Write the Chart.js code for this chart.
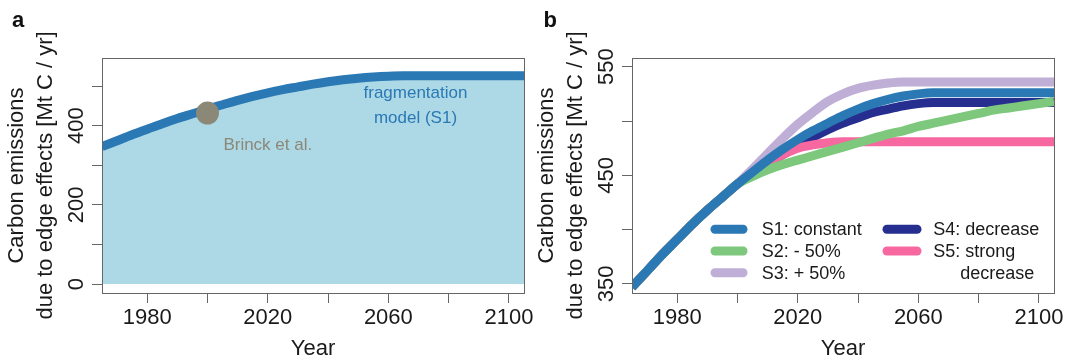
<!DOCTYPE html>
<html>
<head>
<meta charset="utf-8">
<script src="https://cdn.jsdelivr.net/npm/chart.js@4.4.1/dist/chart.umd.min.js"></script>
<style>
  html, body { margin: 0; padding: 0; background: #fff; }
  body { width: 1070px; height: 360px; position: relative; overflow: hidden; }
  canvas { position: absolute; top: 0; }
  #chartA { left: 0; }
  #chartB { left: 530px; }
</style>
</head>
<body>
<canvas id="chartA" width="545" height="360"></canvas>
<canvas id="chartB" width="540" height="360"></canvas>
<script>
// data (5-year steps)
const years = [1965, 1970, 1975, 1980, 1985, 1990, 1995, 2000, 2005, 2010, 2015, 2020, 2025, 2030, 2035,
  2040, 2045, 2050, 2055, 2060, 2065, 2070, 2075, 2080, 2085, 2090, 2095, 2100, 2105]

const s1Constant = [347, 362, 377, 391, 405, 418, 430, 442, 453, 464, 474, 483, 491, 498, 505,
  511, 516, 520, 523, 525, 526, 526, 526, 526, 526, 526, 526, 526, 526]
const s2Minus50 = [347, 362, 377, 391, 405, 418, 430, 442, 449, 455, 460, 464, 468, 472, 476,
  480, 484, 488, 491, 495, 498, 501, 504, 507, 510, 512, 514, 516, 518]
const s3Plus50 = [347, 362, 377, 391, 405, 418, 430, 442, 456, 470, 484, 497, 508, 518, 525,
  530, 533, 535, 536, 536, 536, 536, 536, 536, 536, 536, 536, 536, 536]
const s4Decrease = [347, 362, 377, 391, 405, 418, 430, 442, 452, 461, 469, 477, 485, 492, 498,
  503, 508, 511, 514, 516, 517, 517, 517, 517, 517, 517, 517, 517, 517]
const s5Strong = [347, 362, 377, 391, 405, 418, 430, 442, 452, 462, 469, 475, 478, 480, 481,
  481, 481, 481, 481, 481, 481, 481, 481, 481, 481, 481, 481, 481, 481]

const brinckYear = [2000]
const brinckValue = [432]

const xTicks = [1980, 2000, 2020, 2040, 2060, 2080, 2100]
const xLabels = [1980, 2020, 2060, 2100]
const yTicksA = [0, 100, 200, 300, 400, 500]
const yLabelsA = [0, 200, 400]
const yTicksB = [350, 400, 450, 500, 550]
const yLabelsB = [350, 450, 550]

const seriesLabels = ['S1: constant', 'S2: - 50%', 'S3: + 50%', 'S4: decrease', 'S5: strong\ndecrease']
const seriesData = [s1Constant, s2Minus50, s3Plus50, s4Decrease, s5Strong]
const seriesColors = ['#2a79b5', '#7dc87c', '#bfaed5', '#262f8f', '#f768a1']
const seriesOrder = [0, 1, 4, 3, 2]

// -------------------------

const FONT = "'Liberation Sans', Arial, Helvetica, sans-serif"
const AXIS_COLOR = '#666'
const TEXT_COLOR = '#1a1a1a'
const LINE_W = 9
const Y_TITLE = ['Carbon emissions', 'due to edge effects [Mt C / yr]']

Chart.defaults.font.family = FONT

const toPoints = (values) => values.map((v, i) => ({ x: years[i], y: v }))

const makeX = () => ({
  type: 'linear',
  min: 1965,
  max: 2105,
  afterBuildTicks: (scale) => {
    scale.ticks = xTicks.map((v) => ({ value: v }))
  },
  afterFit: (scale) => {
    scale.height = 67
  },
  ticks: {
    autoSkip: false,
    minRotation: 0,
    maxRotation: 0,
    padding: 2,
    color: TEXT_COLOR,
    font: { size: 22 },
    callback: (v) => (xLabels.includes(v) ? String(v) : ''),
  },
  grid: { drawOnChartArea: false, tickLength: 10, color: AXIS_COLOR },
  border: { color: AXIS_COLOR },
  title: {
    display: true,
    text: 'Year',
    color: TEXT_COLOR,
    font: { size: 22, lineHeight: 1 },
    padding: { top: 0, bottom: 0.5 },
  },
})

const makeY = (min, max, ticks, labels) => ({
  type: 'linear',
  min,
  max,
  afterBuildTicks: (scale) => {
    scale.ticks = ticks.map((v) => ({ value: v }))
  },
  afterFit: (scale) => {
    scale.width = 102
  },
  ticks: {
    autoSkip: false,
    minRotation: 90,
    maxRotation: 90,
    crossAlign: 'center',
    padding: -3.75,
    color: TEXT_COLOR,
    font: { size: 22 },
    callback: (v) => (labels.includes(v) ? String(v) : ''),
  },
  grid: { drawOnChartArea: false, tickLength: 10, color: AXIS_COLOR },
  border: { color: AXIS_COLOR },
  title: {
    display: true,
    text: Y_TITLE,
    color: TEXT_COLOR,
    font: { size: 22, lineHeight: 1.286 },
    padding: { top: 3.25, bottom: 0 },
  },
})

const boxPlugin = {
  id: 'box',
  afterDraw(chart) {
    const { ctx, chartArea: a } = chart
    ctx.save()
    ctx.strokeStyle = AXIS_COLOR
    ctx.lineWidth = 1
    ctx.strokeRect(Math.round(a.left) + 0.5, Math.round(a.top) + 0.5, Math.round(a.right - a.left), Math.round(a.bottom - a.top))
    ctx.restore()
  },
}

const panelLetter = (letter, x) => ({
  id: 'panelLetter',
  afterDraw(chart) {
    const { ctx } = chart
    ctx.save()
    ctx.font = `bold 22px ${FONT}`
    ctx.fillStyle = '#111'
    ctx.textBaseline = 'alphabetic'
    ctx.fillText(letter, x, 27)
    ctx.restore()
  },
})

// Panel a annotations
const notesPlugin = {
  id: 'notes',
  afterDatasetsDraw(chart) {
    const { ctx, scales } = chart
    ctx.save()
    ctx.font = `17px ${FONT}`
    ctx.textAlign = 'center'
    ctx.textBaseline = 'middle'
    ctx.fillStyle = '#2a79b5'
    ctx.fillText('fragmentation', scales.x.getPixelForValue(2069), scales.y.getPixelForValue(482))
    ctx.fillText('model (S1)', scales.x.getPixelForValue(2069), scales.y.getPixelForValue(419))
    ctx.fillStyle = '#8b8878'
    ctx.fillText('Brinck et al.', scales.x.getPixelForValue(2020), scales.y.getPixelForValue(350))
    ctx.restore()
  },
}

// Panel b legend, two columns
const legendPlugin = {
  id: 'twoColLegend',
  afterDraw(chart) {
    const { ctx } = chart
    const rows = [229.3, 251, 272.7]
    const cols = [
      { x1: 185, x2: 213, tx: 231.7 },
      { x1: 357, x2: 387, tx: 403.3 },
    ]
    ctx.save()
    ctx.font = `18px ${FONT}`
    ctx.textBaseline = 'middle'
    ctx.lineCap = 'round'
    ctx.lineWidth = LINE_W
    seriesLabels.forEach((label, i) => {
      const col = cols[i < 3 ? 0 : 1]
      const y = rows[i < 3 ? i : i - 3]
      ctx.strokeStyle = seriesColors[i]
      ctx.beginPath()
      ctx.moveTo(col.x1, y)
      ctx.lineTo(col.x2, y)
      ctx.stroke()
      ctx.fillStyle = TEXT_COLOR
      const lines = label.split('\n')
      ctx.fillText(lines[0], col.tx, y + 1)
      if (lines[1]) ctx.fillText(lines[1], col.tx + 27, y + 1 + 21.7)
    })
    ctx.restore()
  },
}

const common = {
  responsive: false,
  animation: false,
  devicePixelRatio: 1,
  events: [],
}

new Chart(document.getElementById('chartA').getContext('2d'), {
  type: 'line',
  data: {
    datasets: [
      {
        type: 'scatter',
        label: 'Brinck et al.',
        data: brinckYear.map((x, i) => ({ x, y: brinckValue[i] })),
        pointRadius: 11.5,
        pointBackgroundColor: '#8b8878',
        pointBorderWidth: 0,
        order: 0,
      },
      {
        label: seriesLabels[0],
        data: toPoints(s1Constant),
        borderColor: seriesColors[0],
        borderWidth: LINE_W,
        backgroundColor: '#add8e6',
        fill: 'origin',
        pointRadius: 0,
        cubicInterpolationMode: 'monotone',
        clip: 0,
        order: 1,
      },
    ],
  },
  options: {
    ...common,
    layout: { padding: { top: 58, right: 21, left: 0, bottom: 0 } },
    scales: {
      x: makeX(),
      y: makeY(-22.7, 571, yTicksA, yLabelsA),
    },
    plugins: { legend: { display: false }, tooltip: { enabled: false } },
  },
  plugins: [notesPlugin, boxPlugin, panelLetter('a', 12)],
})

new Chart(document.getElementById('chartB').getContext('2d'), {
  type: 'line',
  data: {
    datasets: seriesData.map((values, i) => ({
      label: seriesLabels[i],
      data: toPoints(values),
      borderColor: seriesColors[i],
      borderWidth: LINE_W,
      pointRadius: 0,
      fill: false,
      cubicInterpolationMode: 'monotone',
      clip: 0,
      order: seriesOrder[i],
    })),
  },
  options: {
    ...common,
    layout: { padding: { top: 58, right: 16, left: 0, bottom: 0 } },
    scales: {
      x: makeX(),
      y: makeY(341.7, 558, yTicksB, yLabelsB),
    },
    plugins: { legend: { display: false }, tooltip: { enabled: false } },
  },
  plugins: [legendPlugin, boxPlugin, panelLetter('b', 13.5)],
})
</script>
</body>
</html>
